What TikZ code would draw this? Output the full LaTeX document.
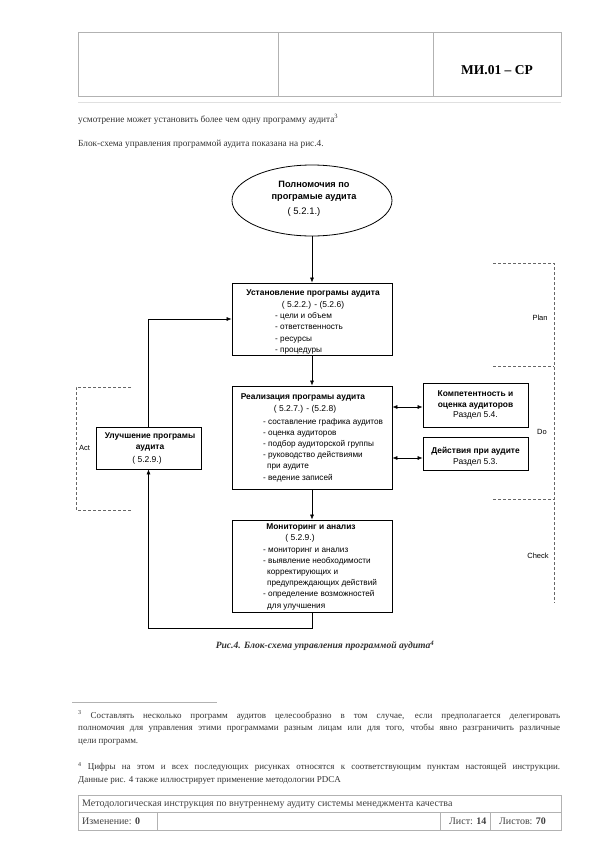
\documentclass[tikz,border=0pt]{standalone}
\usepackage{fontspec}
\setmainfont{Liberation Serif}
\setsansfont{Liberation Sans}
\usetikzlibrary{arrows.meta,shapes.geometric}
\hyphenpenalty=10000

\tikzset{
  tabl/.style={draw=black!30, line width=0.6pt},
  tekst/.style={font=\fontsize{9.3}{12}\selectfont, text=black!80, inner sep=0pt},
  niz/.style={font=\fontsize{10}{12}\selectfont, text=black!75, inner sep=0pt, anchor=west},
  blok/.style={draw, line width=0.8pt, minimum width=160pt, inner sep=0pt},
  malblok/.style={draw, line width=0.8pt, minimum width=105pt, inner sep=0pt},
  zag/.style={font=\sffamily\bfseries\fontsize{8.4}{11}\selectfont, inner sep=0pt, align=center},
  punkt/.style={font=\sffamily\fontsize{8.2}{11.2}\selectfont, inner sep=0pt, align=left, anchor=north west},
  nomer/.style={font=\sffamily\fontsize{8.5}{9}\selectfont, inner sep=0pt},
  strelka/.style={-{Latex[length=5pt,width=4pt]}, line width=0.6pt},
  dvestr/.style={{Latex[length=5pt,width=4pt]}-{Latex[length=5pt,width=4pt]}, line width=0.6pt},
  pdca/.style={draw=black!60, dash pattern=on 3pt off 2pt, line width=0.6pt},
  metka/.style={font=\sffamily\fontsize{7.5}{9}\selectfont, inner sep=0pt},
  snoska/.style={font=\fontsize{9}{12.5}\selectfont, text=black!80, inner sep=0pt, text width=482pt, align=justify, anchor=north west}
}

\begin{document}
\begin{tikzpicture}[x=1pt,y=-1pt]
\useasboundingbox[fill=white] (0,0) rectangle (594,841);

% shapka
\draw[tabl] (78,32) rectangle (561,96);
\draw[tabl] (278,32) -- (278,96) (433,32) -- (433,96);
\node[font=\bfseries\fontsize{13.5}{15}\selectfont, inner sep=0pt] (shifr) at (497,70) {МИ.01 – СР};
\draw[draw=black!12, line width=0.5pt] (78,102) -- (561,102);

\node[tekst, anchor=base west] (abz1) at (78,122) {усмотрение может установить более чем одну программу аудита\textsuperscript{3}};
\node[tekst, anchor=base west] (abz2) at (78,146) {Блок-схема управления программой аудита показана на рис.4.};

% blok-skhema
\node[ellipse, draw, line width=0.8pt, minimum width=160pt, minimum height=71pt] (poln) at (312,200.5) {};
\node[zag, font=\sffamily\bfseries\fontsize{9.2}{12}\selectfont] (polnz) at (314,191) {Полномочия по\\програмые аудита};
\node[nomer, font=\sffamily\fontsize{9.5}{10}\selectfont] (polnn) at (304,212) {( 5.2.1.)};

\node[blok, minimum height=72pt] (ustan) at (312,319) {};
\node[zag] (ustanz) at (313,293) {Установление програмы аудита};
\node[nomer] (ustann) at (313,305) {( 5.2.2.) - (5.2.6)};
\node[punkt] (ustanp) at (275,312.5) {- цели и объем\\- ответственность\\- ресурсы\\- процедуры};

\node[blok, minimum height=103pt] (real) at (312,437.5) {};
\node[zag] (realz) at (303,397) {Реализация програмы аудита};
\node[nomer] (realn) at (305,409) {( 5.2.7.) - (5.2.8)};
\node[punkt] (realp) at (263,418) {- составление графика аудитов\\- оценка аудиторов\\- подбор аудиторской группы\\- руководство действиями\\\hspace*{4pt}при аудите\\- ведение записей};

\node[blok, minimum height=92pt] (monit) at (312,566) {};
\node[zag] (monitz) at (311,527) {Мониторинг и анализ};
\node[nomer] (monitn) at (300,538) {( 5.2.9.)};
\node[punkt] (monitp) at (263,547.5) {- мониторинг и анализ\\- выявление необходимости\\\hspace*{4pt}корректирующих и\\\hspace*{4pt}предупреждающих действий\\- определение возможностей\\\hspace*{4pt}для улучшения};

\node[malblok, minimum height=42pt] (uluch) at (148.5,448) {};
\node[zag] (uluchz) at (150,442) {Улучшение програмы\\аудита};
\node[nomer] (uluchn) at (147,460) {( 5.2.9.)};

\node[malblok, minimum height=44pt] (komp) at (475.5,405) {};
\node[zag] (kompz) at (475.5,400) {Компетентность и\\оценка аудиторов};
\node[nomer] (kompn) at (475.5,415) {Раздел 5.4.};

\node[malblok, minimum height=33pt] (deist) at (475.5,453.5) {};
\node[zag] (deistz) at (475.5,451.5) {Действия при аудите};
\node[nomer] (deistn) at (475.5,462) {Раздел 5.3.};

% svyazi
\draw[strelka] (poln) -- (ustan);
\draw[strelka] (ustan) -- (real);
\draw[strelka] (real) -- (monit);
\draw[dvestr] (real.east |- 0,407) -- (komp.west |- 0,407);
\draw[dvestr] (real.east |- 0,458) -- (deist.west |- 0,458);
\draw[strelka] (monit.south) -- ++(0,16) -| (uluch.south);
\draw[strelka] (uluch.north) |- (ustan.west);

% PDCA
\draw[pdca] (493,263) -- (554,263) -- (554,603);
\draw[pdca] (493,366) -- (554,366);
\draw[pdca] (493,499) -- (554,499);
\draw[pdca] (131,387) -- (76,387) -- (76,510) -- (131,510);
\node[metka] (plan) at (540,318) {Plan};
\node[metka] (do) at (542,432) {Do};
\node[metka] (check) at (538,556) {Check};
\node[metka, anchor=west] (act) at (79,448) {Act};

\node[font=\bfseries\itshape\fontsize{9.6}{11}\selectfont, text=black!80, inner sep=0pt] (podpis) at (325,646) {Рис.4. Блок-схема управления программой аудита\textsuperscript{4}};

% snoski
\draw[draw=black!30, line width=0.5pt] (72,702) -- (217,702);
\node[snoska] (sn3) at (78,710) {\textsuperscript{3} Составлять несколько программ аудитов целесообразно в том случае, если предполагается делегировать\linebreak полномочия для управления этими программами разным лицам или для того, чтобы явно разграничить различные\linebreak цели программ.};
\node[snoska] (sn4) at (78,762) {\textsuperscript{4} Цифры на этом и всех последующих рисунках относятся к соответствующим пунктам настоящей инструкции.\linebreak Данные рис. 4 также иллюстрирует применение методологии PDCA};

% nizhnyaya tablitsa
\draw[tabl] (78,795) rectangle (561,830);
\draw[tabl] (78,812) -- (561,812);
\draw[tabl] (157,812) -- (157,830) (440,812) -- (440,830) (490,812) -- (490,830);
\node[niz] (nazv) at (82,804) {Методологическая инструкция по внутреннему аудиту системы менеджмента качества};
\node[niz] (izm) at (82,821) {Изменение: \textbf{0}};
\node[niz] (list) at (449,821) {Лист: \textbf{14}};
\node[niz] (listov) at (499,821) {Листов: \textbf{70}};
\end{tikzpicture}
\end{document}
